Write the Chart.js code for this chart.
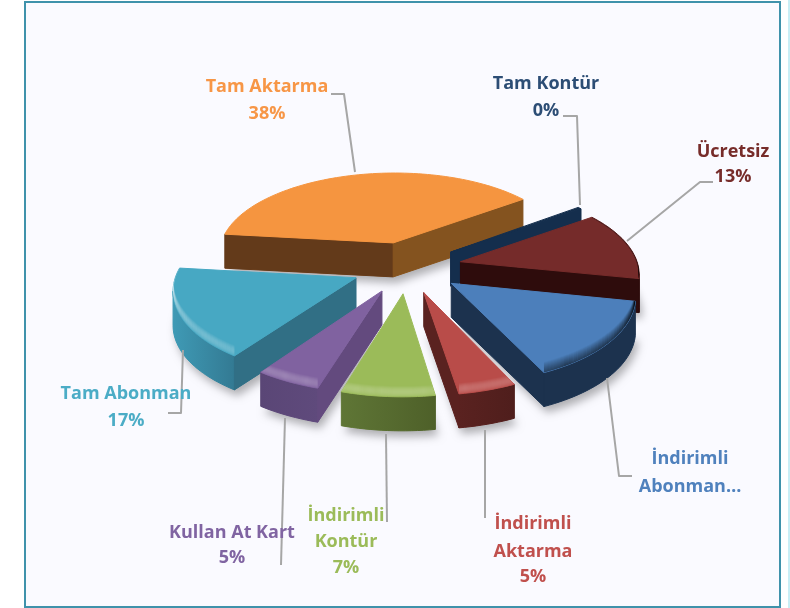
<!DOCTYPE html>
<html>
<head>
<meta charset="utf-8">
<style>
	html, body { margin: 0; padding: 0; background: #fff; }
	#panel { position: absolute; left: 24px; top: 1px; width: 753px; height: 603px; background: #fafaff; border: 2px solid #3f92ab; }
	#strip { position: absolute; left: 788px; top: 0; width: 2px; height: 608px; background: #c9eef5; }
	#wrap { position: absolute; left: 0; top: 0; width: 790px; height: 608px; }
</style>
</head>
<body>
<div id="panel"></div>
<div id="strip"></div>
<div id="wrap"><canvas id="pie3d" width="790" height="608"></canvas></div>
<script src="https://cdn.jsdelivr.net/npm/chart.js@4/dist/chart.umd.js"></script>
<script>
// データ
var categories = ['Tam Aktarma', 'Tam Kontür', 'Ücretsiz', 'İndirimli Abonman…', 'İndirimli Aktarma', 'İndirimli Kontür', 'Kullan At Kart', 'Tam Abonman'];
var values = [38, 0.4, 13, 14.8, 4.5, 7.2, 5.1, 17];
var percentLabels = ['38%', '0%', '13%', '', '5%', '7%', '5%', '17%'];

// 色
var topColors = ['#f59540', '#142e4d', '#752b2a', '#4c7fbb', '#b94c49', '#9bbb59', '#8062a0', '#47a8c3'];
var startWallColors = ['#633a1a', '#142e4d', '#2e0c0c', '#1c324e', '#5a2220', '#586b32', '#634a7e', '#316f85'];
var endWallColors = ['#84531f', '#142e4d', '#2e0c0c', '#1c324e', '#5a2220', '#586b32', '#634a7e', '#316f85'];
var outerLeftColors = ['#633a1a', '#142e4d', '#2e0c0c', '#1c324e', '#5a2220', '#5f7636', '#5a4676', '#3f9ab5'];
var outerRightColors = ['#84531f', '#142e4d', '#2e0c0c', '#1c324e', '#4f1e1c', '#4e6029', '#5f4a7c', '#337a93'];
var bevelTints = ['', '', '0,0,0', '0,0,0', '255,255,255', '255,255,255', '255,255,255', '255,255,255'];
var labelColors = ['#f79646', '#2c4d75', '#772c2a', '#4f81bd', '#c0504d', '#9bbb59', '#8064a2', '#4bacc6'];

// ラベルの配置
var labelX = [267, 546, 733, 690, 533, 346, 232, 126];
var labelY = [[87, 114], [84, 111], [152, 177], [459, 487], [524, 552, 577], [516, 542, 568], [533, 558], [394, 421]];
var labelLines = [
	['Tam Aktarma'], ['Tam Kontür'], ['Ücretsiz'], ['İndirimli', 'Abonman…'],
	['İndirimli', 'Aktarma'], ['İndirimli', 'Kontür'], ['Kullan At Kart'], ['Tam Abonman']
];
var leaderLines = [
	[[331, 94], [344, 94], [355, 172]],
	[[563, 116], [577, 116], [580, 205]],
	[[713, 182], [700, 182], [627, 241]],
	[[607, 378], [619, 476], [632, 476]],
	[[485, 430], [485, 518]],
	[[386, 434], [387, 522]],
	[[285, 418], [281, 565]],
	[[183, 350], [181, 413], [168, 413]]
];

// 視点
var view = { flatten: 0.47, persp: 0.12, depth: 34 };

function project(arc, u, v) {
	var s = 1 / (1 - view.persp * v);
	return { x: arc.x + arc.outerRadius * u * s, y: arc.y + arc.outerRadius * view.flatten * v * s };
}

function tracePath(ctx, pts, dy) {
	ctx.beginPath();
	pts.forEach(function(p, i) {
		if (i === 0) ctx.moveTo(p.x, p.y + (dy || 0));
		else ctx.lineTo(p.x, p.y + (dy || 0));
	});
}

function fillFace(ctx, pts, color) {
	tracePath(ctx, pts);
	ctx.closePath();
	ctx.fillStyle = color;
	ctx.strokeStyle = color;
	ctx.lineWidth = 1;
	ctx.lineJoin = 'round';
	ctx.fill();
	ctx.stroke();
}

function sliceShape(arc) {
	var mid = (arc.startAngle + arc.endAngle) / 2;
	var e = arc.options.offset / arc.outerRadius;
	var cu = Math.cos(mid) * e, cv = Math.sin(mid) * e;
	var steps = Math.max(2, Math.ceil((arc.endAngle - arc.startAngle) / 0.03));
	var rim = [];
	for (var i = 0; i <= steps; i++) {
		var a = arc.startAngle + (arc.endAngle - arc.startAngle) * i / steps;
		rim.push(project(arc, cu + Math.cos(a), cv + Math.sin(a)));
	}
	return { apex: project(arc, cu, cv), rim: rim, depthKey: cv };
}

function drop(pts) {
	return pts.map(function(p) { return { x: p.x, y: p.y + view.depth }; });
}

function drawSlice(ctx, shape, i) {
	var apex = shape.apex, rim = shape.rim;
	var first = rim[0], last = rim[rim.length - 1];
	var outline = [apex].concat(rim);

	// 影
	ctx.save();
	ctx.shadowColor = 'rgba(0,0,0,0.3)';
	ctx.shadowBlur = 9;
	ctx.shadowOffsetY = 6;
	ctx.shadowOffsetX = 3;
	tracePath(ctx, outline, view.depth);
	ctx.closePath();
	ctx.fillStyle = topColors[i];
	ctx.fill();
	ctx.restore();

	// 外周の側面
	var run = [];
	for (var k = 0; k < rim.length - 1; k++) {
		if (rim[k + 1].x < rim[k].x) {
			if (!run.length) run.push(rim[k]);
			run.push(rim[k + 1]);
		}
	}
	if (run.length) {
		var grad = ctx.createLinearGradient(run[run.length - 1].x, 0, run[0].x, 0);
		grad.addColorStop(0, outerLeftColors[i]);
		grad.addColorStop(1, outerRightColors[i]);
		fillFace(ctx, run.concat(drop(run).reverse()), grad);
	}

	// 切り口の側面
	if (first.x < apex.x) fillFace(ctx, [apex, first].concat(drop([first, apex])), startWallColors[i]);
	if (apex.x < last.x) fillFace(ctx, [last, apex].concat(drop([apex, last])), endWallColors[i]);

	// 上面
	fillFace(ctx, outline, topColors[i]);

	// ふち
	if (bevelTints[i]) {
		ctx.save();
		tracePath(ctx, outline);
		ctx.closePath();
		ctx.clip();
		for (var t = 0; t < 11; t++) {
			var dark = bevelTints[i] === '0,0,0';
			var alpha = dark ? 0.4 * (1 - t / 11) : 0.15 * Math.sin(Math.PI * (t + 1) / 12);
			tracePath(ctx, rim, -t);
			ctx.lineWidth = 1.4;
			ctx.strokeStyle = 'rgba(' + bevelTints[i] + ',' + alpha + ')';
			ctx.stroke();
		}
		ctx.restore();
	}
}

var pie3dPlugin = {
	id: 'pie3d',
	beforeDatasetsDraw: function(chart) {
		var ctx = chart.ctx;
		var shapes = chart.getDatasetMeta(0).data.map(function(arc, i) {
			var s = sliceShape(arc);
			s.index = i;
			return s;
		});
		shapes.sort(function(a, b) { return a.depthKey - b.depthKey; });
		shapes.forEach(function(s) { drawSlice(ctx, s, s.index); });
		return false;
	},
	afterDraw: function(chart) {
		var ctx = chart.ctx;
		ctx.save();
		leaderLines.forEach(function(line) {
			ctx.beginPath();
			line.forEach(function(p, i) {
				if (i === 0) ctx.moveTo(p[0], p[1]);
				else ctx.lineTo(p[0], p[1]);
			});
			ctx.strokeStyle = '#a6a6a6';
			ctx.lineWidth = 2;
			ctx.stroke();
		});
		ctx.font = 'bold 18px "Open Sans"';
		ctx.textAlign = 'center';
		ctx.textBaseline = 'middle';
		categories.forEach(function(name, i) {
			var lines = labelLines[i].slice();
			if (percentLabels[i]) lines.push(percentLabels[i]);
			ctx.fillStyle = labelColors[i];
			lines.forEach(function(text, n) {
				ctx.fillText(text, labelX[i], labelY[i][n]);
			});
		});
		ctx.restore();
	}
};

var ctx = document.getElementById('pie3d').getContext('2d');
var myChart = new Chart(ctx, {
	type: 'pie',
	data: {
		labels: categories,
		datasets: [{ data: values, backgroundColor: topColors, offset: 55, borderWidth: 0 }]
	},
	options: {
		responsive: false,
		animation: false,
		rotation: 276.5,
		radius: 178,
		layout: { padding: { left: 229, right: 205, top: 89, bottom: 163 } },
		plugins: { legend: { display: false }, tooltip: { enabled: false } }
	},
	plugins: [pie3dPlugin]
});
</script>
</body>
</html>
